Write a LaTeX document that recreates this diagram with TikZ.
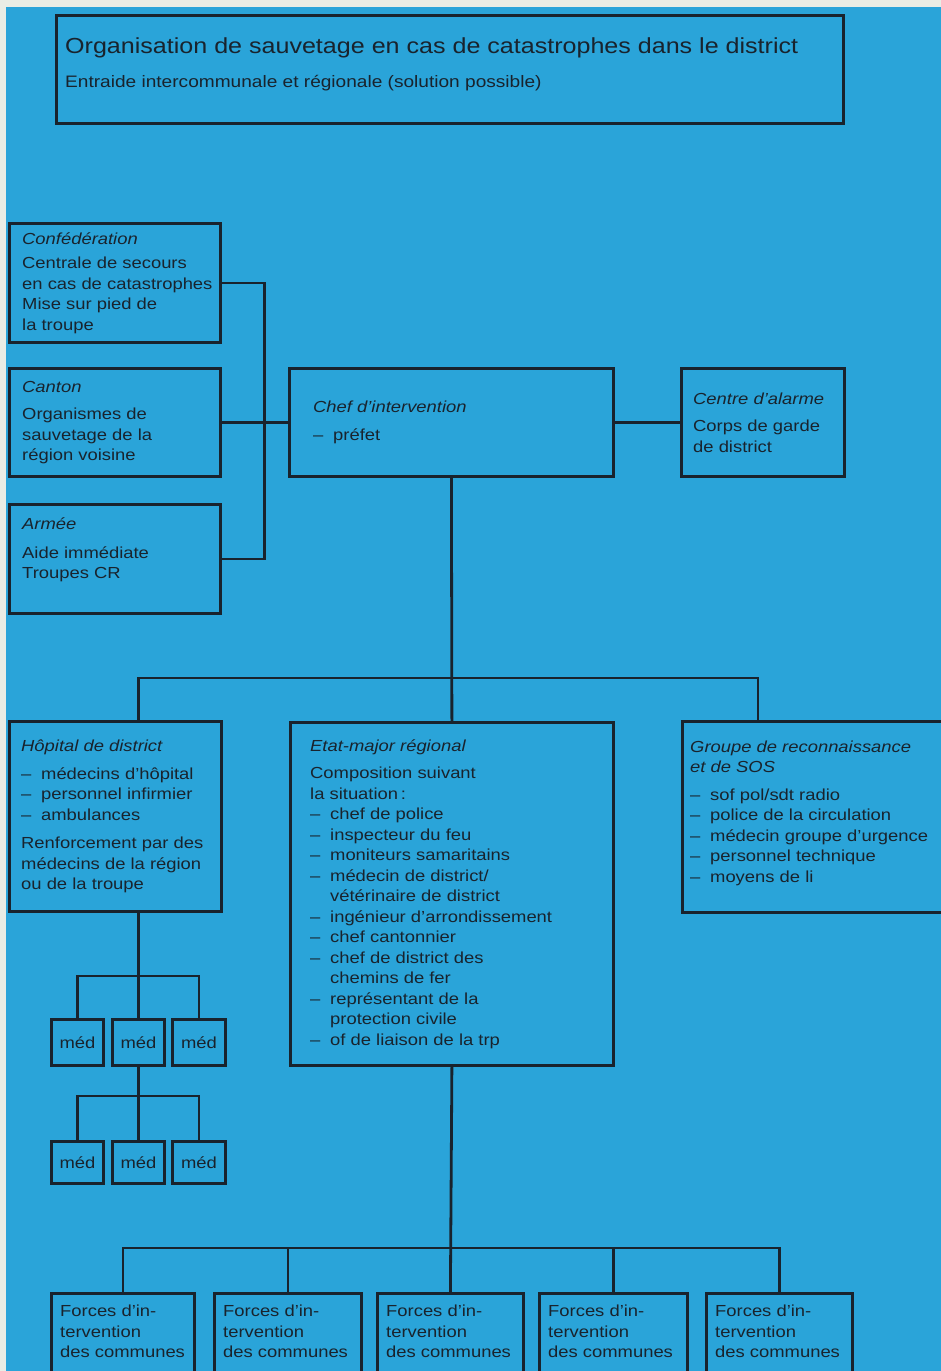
\documentclass[tikz,border=0pt]{standalone}
\usepackage{fontspec}
\setmainfont{Liberation Sans}[FakeStretch=1.15]
\usepackage{tikz}
\usetikzlibrary{positioning}
\definecolor{sky}{RGB}{42,164,217}
\definecolor{ink}{RGB}{25,35,45}
\definecolor{paper}{RGB}{234,237,229}
\newcommand{\itm}[1]{\makebox[20pt][l]{\textendash}#1}
\newcommand{\cnt}[1]{\hspace*{20pt}#1}

\begin{document}
\begin{tikzpicture}[x=1pt,y=-1pt,
    frame/.style={draw=ink,line width=2.8pt,rectangle,anchor=north west,inner sep=0pt},
    txt/.style={text=ink,align=left,inner sep=0pt,font=\fontsize{16}{20.5}\selectfont},
    link/.style={draw=ink,line width=2.8pt}]
    \useasboundingbox (0,0) rectangle (941,1371);
    \clip (0,0) rectangle (941,1371);
    \fill[paper] (0,0) rectangle (941,1371);
    \fill[sky] (6,7) rectangle (941,1371);

    % title
    \node[frame,minimum width=787pt,minimum height=108pt] (title) at (55,14) {};
    \node[txt,anchor=west,font=\fontsize{21.8}{24}\selectfont] (title-t) at ([shift={(10,34)}]title.north west)
      {Organisation de sauvetage en cas de catastrophes dans le district};
    \node[txt,anchor=west,font=\fontsize{16.6}{20}\selectfont] (sub-t) at ([shift={(10,69)}]title.north west)
      {Entraide intercommunale et régionale (solution possible)};

    % left column
    \node[frame,minimum width=211pt,minimum height=119pt] (conf) at (8,222) {};
    \node[txt,right=14pt of conf.west] (conf-t)
      {\textit{Confédération}\\[4pt]Centrale de secours\\en cas de catastrophes\\Mise sur pied de\\la troupe};
    \node[frame,minimum width=211pt,minimum height=108pt] (canton) at (8,367) {};
    \node[txt,right=14pt of canton.west] (canton-t)
      {\textit{Canton}\\[7pt]Organismes de\\sauvetage de la\\région voisine};
    \node[frame,minimum width=211pt,minimum height=109pt] (armee) at (8,503) {};
    \node[txt,anchor=north west] (armee-t) at ([shift={(14,15)}]armee.north west)
      {\textit{Armée}\\[8pt]Aide immédiate\\Troupes CR};

    % command
    \node[frame,minimum width=324pt,minimum height=108pt] (chef) at (288,367) {};
    \node[txt,right=25pt of chef.west] (chef-t)
      {\textit{Chef d’intervention}\\[7pt]\itm{préfet}};
    \node[frame,minimum width=163pt,minimum height=108pt] (alarme) at (680,367) {};
    \node[txt,right=13pt of alarme.west] (alarme-t)
      {\textit{Centre d’alarme}\\[7pt]Corps de garde\\de district};

    % second level
    \node[frame,minimum width=212pt,minimum height=190pt] (hopital) at (8,720) {};
    \node[txt,right=13pt of hopital.west] (hopital-t)
      {\textit{Hôpital de district}\\[7pt]\itm{médecins d’hôpital}\\\itm{personnel infirmier}\\\itm{ambulances}\\[8pt]
       Renforcement par des\\médecins de la région\\ou de la troupe};
    \node[frame,minimum width=323pt,minimum height=343pt] (etat) at (289,721) {};
    \node[txt,right=21pt of etat.west] (etat-t)
      {\textit{Etat-major régional}\\[7pt]Composition suivant\\la situation\,:\\\itm{chef de police}\\\itm{inspecteur du feu}\\
       \itm{moniteurs samaritains}\\\itm{médecin de district/}\\\cnt{vétérinaire de district}\\\itm{ingénieur d’arrondissement}\\
       \itm{chef cantonnier}\\\itm{chef de district des}\\\cnt{chemins de fer}\\\itm{représentant de la}\\\cnt{protection civile}\\
       \itm{of de liaison de la trp}};
    \node[frame,minimum width=290pt,minimum height=191pt] (groupe) at (681,720) {};
    \node[txt,right=9pt of groupe.west,yshift=4pt] (groupe-t)
      {\textit{Groupe de reconnaissance}\\\textit{et de SOS}\\[7pt]\itm{sof pol/sdt radio}\\\itm{police de la circulation}\\
       \itm{médecin groupe d’urgence}\\\itm{personnel technique}\\\itm{moyens de li}};

    % doctors
    \node[frame,minimum width=52pt,minimum height=46pt,txt] (med1) at (50,1018) {méd};
    \node[frame,minimum width=52pt,minimum height=46pt,txt] (med2) at (111,1018) {méd};
    \node[frame,minimum width=53pt,minimum height=46pt,txt] (med3) at (171,1018) {méd};
    \node[frame,minimum width=52pt,minimum height=42pt,txt] (med4) at (50,1140) {méd};
    \node[frame,minimum width=52pt,minimum height=42pt,txt] (med5) at (111,1140) {méd};
    \node[frame,minimum width=53pt,minimum height=42pt,txt] (med6) at (171,1140) {méd};

    % communes
    \node[frame,minimum width=143pt,minimum height=100pt] (forces1) at (50,1292) {};
    \node[frame,minimum width=147pt,minimum height=100pt] (forces2) at (213,1292) {};
    \node[frame,minimum width=146pt,minimum height=100pt] (forces3) at (376,1292) {};
    \node[frame,minimum width=148pt,minimum height=100pt] (forces4) at (538,1292) {};
    \node[frame,minimum width=146pt,minimum height=100pt] (forces5) at (705,1292) {};
    \node[txt,anchor=north west] (forces1-t) at ([shift={(10,13)}]forces1.north west) {Forces d’in-\\tervention\\des communes};
    \node[txt,anchor=north west] (forces2-t) at ([shift={(10,13)}]forces2.north west) {Forces d’in-\\tervention\\des communes};
    \node[txt,anchor=north west] (forces3-t) at ([shift={(10,13)}]forces3.north west) {Forces d’in-\\tervention\\des communes};
    \node[txt,anchor=north west] (forces4-t) at ([shift={(10,13)}]forces4.north west) {Forces d’in-\\tervention\\des communes};
    \node[txt,anchor=north west] (forces5-t) at ([shift={(10,13)}]forces5.north west) {Forces d’in-\\tervention\\des communes};

    % connectors
    \coordinate (hub) at (451,678);
    \draw[link] (conf.east) -- ++(43,0) |- (armee.east);
    \draw[link] (canton.east) -- (chef.west);
    \draw[link] (chef.east) -- (alarme.west);
    \draw[link] (chef.south) -- (etat.north);
    \draw[link] (med2 |- hopital.north) |- (hub) -| ([xshift=77pt]groupe.north west);
    \draw[link] (hopital.south -| med2.north) -- (med2.north);
    \draw[link] (med1.north) -- ++(0,-42) -| (med3.north);
    \draw[link] (med2.south) -- (med5.north);
    \draw[link] (med4.north) -- ++(0,-44) -| (med6.north);
    \draw[link] (etat.south) -- (forces3.north);
    \draw[link] (forces1.north) -- ++(0,-44) -| (forces5.north);
    \draw[link] (forces2.north) -- ++(0,-44);
    \draw[link] (forces4.north) -- ++(0,-44);
  \end{tikzpicture}
\end{document}
